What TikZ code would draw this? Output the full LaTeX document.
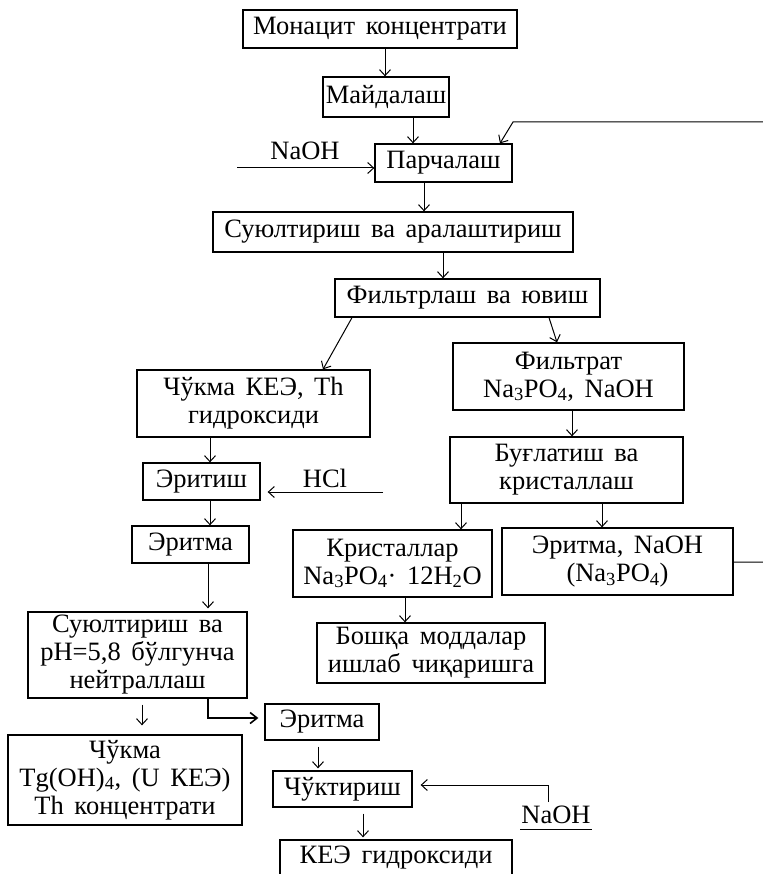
\documentclass[tikz,border=0pt]{standalone}
\usepackage{fontspec}
\setmainfont{Liberation Serif}[WordSpace=1.6]
\usetikzlibrary{arrows.meta,calc}
\begin{document}
\begin{tikzpicture}[x=1pt,y=-1pt,
  box/.style={draw, line width=1.3pt, inner sep=0pt, align=center, font=\fontsize{26.5}{28}\selectfont},
  arr/.style={line width=1pt, -{Straight Barb[length=6pt,width=11pt]}},
  boldarr/.style={line width=1.6pt, -{Straight Barb[length=7pt,width=11pt,line width=1.6pt]}},
  ln/.style={line width=1pt},
  lbl/.style={font=\fontsize{26.5}{28}\selectfont, inner sep=0pt, anchor=base}]
\useasboundingbox (0,0) rectangle (762,874);
\fill[white] (0,0) rectangle (762,874);

\node[box, minimum width=274pt, minimum height=38pt] (B1) at (380,29) {Монацит концентрати};
\node[box, minimum width=126pt, minimum height=40pt] (B2) at (386,97) {Майдалаш};
\node[box, minimum width=137pt, minimum height=38pt] (B3) at (443.5,163) {Парчалаш};
\node[box, minimum width=360pt, minimum height=40pt] (B4) at (393,232) {Суюлтириш ва аралаштириш};
\node[box, minimum width=265pt, minimum height=38pt] (B5) at (467.5,298) {Фильтрлаш ва ювиш};
\node[box, minimum width=233pt, minimum height=67pt] (B6) at (253.5,403.5) {Чўкма КЕЭ, Th\\гидроксиди};
\node[box, minimum width=231pt, minimum height=67pt] (B7) at (568.5,376.5) {Фильтрат\\Na\textsubscript{3}PO\textsubscript{4}, NaOH};
\node[box, minimum width=233pt, minimum height=66pt] (B8) at (566.5,470) {Буғлатиш ва\\кристаллаш};
\node[box, minimum width=117pt, minimum height=37pt] (B9) at (201.5,481.5) {Эритиш};
\node[box, minimum width=117pt, minimum height=37pt] (B10) at (190.5,544.5) {Эритма};
\node[box, minimum width=219pt, minimum height=86pt] (B11) at (137.5,655) {Суюлтириш ва\\pH=5,8 бўлгунча\\нейтраллаш};
\node[box, minimum width=234pt, minimum height=90pt] (B12) at (125,780) {Чўкма\\Tg(OH)\textsubscript{4}, (U КЕЭ)\\Th концентрати};
\node[box, minimum width=199pt, minimum height=67pt] (B13) at (392.5,563.5) {Кристаллар\\Na\textsubscript{3}PO\textsubscript{4}· 12H\textsubscript{2}O};
\node[box, minimum width=231pt, minimum height=67pt] (B14) at (617.5,561.5) {Эритма, NaOH\\(Na\textsubscript{3}PO\textsubscript{4})};
\node[box, minimum width=228pt, minimum height=60pt] (B15) at (431,653) {Бошқа моддалар\\ишлаб чиқаришга};
\node[box, minimum width=114pt, minimum height=36pt] (B16) at (322,722) {Эритма};
\node[box, minimum width=139pt, minimum height=36pt] (B17) at (342.5,789) {Чўктириш};
\node[box, minimum width=232pt, minimum height=36pt] (B18) at (396,858) {КЕЭ гидроксиди};

\node[lbl] (L1) at (305,160) {NaOH};
\node[lbl] (L2) at (325,487) {HCl};
\node[lbl] (L3) at (556,823) {NaOH};
\draw[ln] (520,829) -- (592,829);

\coordinate (naoh1) at (237,168);
\coordinate (hcl) at (383,492);
\coordinate (rc1) at (765,562);
\coordinate (rc2) at (765,122);
\coordinate (rc3) at (513,122);
\coordinate (nb) at (548,802);

\draw[arr] (B1.south -| 385,0) -- (B2.north -| 385,0);
\draw[arr] (B2.south -| 413,0) -- (B3.north -| 413,0);
\draw[arr] (naoh1) -- (B3.west |- naoh1);
\draw[arr] (B14.east |- rc1) -- (rc1) -- (rc2) -- (rc3) -- (B3.north -| 500,0);
\draw[arr] (B3.south -| 424,0) -- (B4.north -| 424,0);
\draw[arr] (B4.south -| 443,0) -- (B5.north -| 443,0);
\draw[arr] (B5.south -| 352,0) -- (B6.north -| 323,0);
\draw[arr] (B5.south -| 549,0) -- (B7.north -| 557,0);
\draw[arr] (B7.south -| 572,0) -- (B8.north -| 572,0);
\draw[arr] (B6.south -| 210,0) -- (B9.north -| 210,0);
\draw[arr, shorten >=7pt] (hcl) -- (B9.east |- hcl);
\draw[arr] (B9.south -| 210,0) -- (B10.north -| 210,0);
\draw[arr, shorten >=3pt] (B10.south -| 208,0) -- (B11.north -| 208,0);
\draw[arr, shorten <=6pt, shorten >=9pt] (B11.south -| 142,0) -- (B12.north -| 142,0);
\draw[boldarr, shorten >=6pt] (B11.south -| 208,0) |- (B16.west |- 0,718);
\draw[arr] (B8.south -| 461,0) -- (B13.north -| 461,0);
\draw[arr] (B8.south -| 602,0) -- (B14.north -| 602,0);
\draw[arr] (B13.south -| 405,0) -- (B15.north -| 405,0);
\draw[arr, shorten <=6pt, shorten >=2pt] (B16.south -| 318,0) -- (B17.north -| 318,0);
\draw[arr, shorten <=6pt, shorten >=2pt] (B17.south -| 363,0) -- (B18.north -| 363,0);
\draw[arr, shorten >=8pt] (nb) |- (B17.east |- 0,785);
\end{tikzpicture}
\end{document}
